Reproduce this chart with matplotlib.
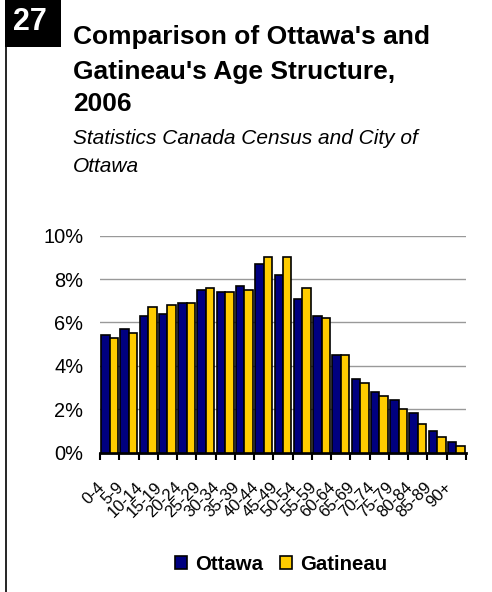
import matplotlib
matplotlib.use("Agg")
import matplotlib.pyplot as plt
import numpy as np
from matplotlib.patches import Rectangle
from matplotlib.lines import Line2D

plt.rcParams['font.family'] = ['Liberation Sans', 'DejaVu Sans']

categories = ["0-4", "5-9", "10-14", "15-19", "20-24", "25-29", "30-34", "35-39",
              "40-44", "45-49", "50-54", "55-59", "60-64", "65-69", "70-74",
              "75-79", "80-84", "85-89", "90+"]
ottawa = [5.4, 5.7, 6.3, 6.4, 6.9, 7.5, 7.4, 7.7, 8.7, 8.2, 7.1, 6.3, 4.5, 3.4, 2.8, 2.4, 1.8, 1.0, 0.5]
gatineau = [5.3, 5.5, 6.7, 6.8, 6.9, 7.6, 7.4, 7.5, 9.0, 9.0, 7.6, 6.2, 4.5, 3.2, 2.6, 2.0, 1.3, 0.7, 0.3]
yticks = [0, 2, 4, 6, 8, 10]
ytick_labels = ["0%", "2%", "4%", "6%", "8%", "10%"]

W, H = 492, 592
fig = plt.figure(figsize=(W / 100, H / 100), dpi=100)

# Number box and side line
fig.patches.append(Rectangle((4.5 / W, 1 - 47 / H), 56.5 / W, 47 / H, transform=fig.transFigure,
                             facecolor='black', edgecolor='none'))
fig.text(30 / W, 1 - 22 / H, "27", color='white', fontsize=22, fontweight='bold',
         ha='center', va='center')
fig.lines.append(Line2D([5.5 / W, 5.5 / W], [0, 1 - 40 / H], transform=fig.transFigure,
                        color='black', lw=1.2))

# Title
tfs = 19
fig.text(73 / W, 1 - 37 / H, "Comparison of Ottawa's and", fontsize=tfs, fontweight='bold',
         ha='left', va='center')
fig.text(73 / W, 1 - 72 / H, "Gatineau's Age Structure,", fontsize=tfs, fontweight='bold',
         ha='left', va='center')
fig.text(73 / W, 1 - 104 / H, "2006", fontsize=tfs, fontweight='bold',
         ha='left', va='center')
fig.text(73 / W, 1 - 138 / H, "Statistics Canada Census and City of", fontsize=15,
         style='italic', ha='left', va='center')
fig.text(73 / W, 1 - 167 / H, "Ottawa", fontsize=15, style='italic', ha='left', va='center')

# Axes
ax_left, ax_right = 100, 466
ax_top, ax_bottom = 235.7, 452.5
ax = fig.add_axes([ax_left / W, 1 - ax_bottom / H, (ax_right - ax_left) / W,
                   (ax_bottom - ax_top) / H])

n = len(categories)
x = np.arange(n)
bw = 0.44
ax.bar(x - bw / 2, ottawa, width=bw, color='#000080', edgecolor='black', linewidth=1.2,
       label='Ottawa', zorder=3)
ax.bar(x + bw / 2, gatineau, width=bw, color='#FFCC00', edgecolor='black', linewidth=1.2,
       label='Gatineau', zorder=3)

ax.set_xlim(-0.5, n - 0.5)
ax.set_ylim(0, 10)
ax.set_yticks(yticks)
ax.set_yticklabels(ytick_labels, fontsize=14.4)
ax.yaxis.grid(True, color='#999999', lw=1)
ax.set_axisbelow(True)
for s in ['left', 'right', 'top']:
    ax.spines[s].set_visible(False)
ax.spines['bottom'].set_linewidth(2)
ax.tick_params(axis='y', length=0, pad=12)

# category boundary ticks
ax.set_xticks(np.arange(n + 1) - 0.5)
ax.set_xticklabels([])
ax.tick_params(axis='x', which='major', direction='out', length=5, width=1.5)

for i, lab in enumerate(categories):
    ax.annotate(lab, xy=(i, 0), xycoords=('data', 'axes fraction'),
                xytext=(-5.5, -23), textcoords='offset points',
                rotation=45, ha='right', va='center', rotation_mode='anchor',
                fontsize=12, annotation_clip=False)

fig.legend(handles=[Rectangle((0, 0), 1, 1, facecolor='#000080', edgecolor='black', lw=1.2),
                    Rectangle((0, 0), 1, 1, facecolor='#FFCC00', edgecolor='black', lw=1.2)],
           labels=['Ottawa', 'Gatineau'], loc='center', bbox_to_anchor=(281 / W, 1 - 564 / H),
           ncol=2, frameon=False, prop={'weight': 'bold', 'size': 14.7},
           handlelength=0.6, handleheight=0.6, handletextpad=0.4, columnspacing=0.8,
           borderpad=0)

fig.savefig("out.png", dpi=100)
